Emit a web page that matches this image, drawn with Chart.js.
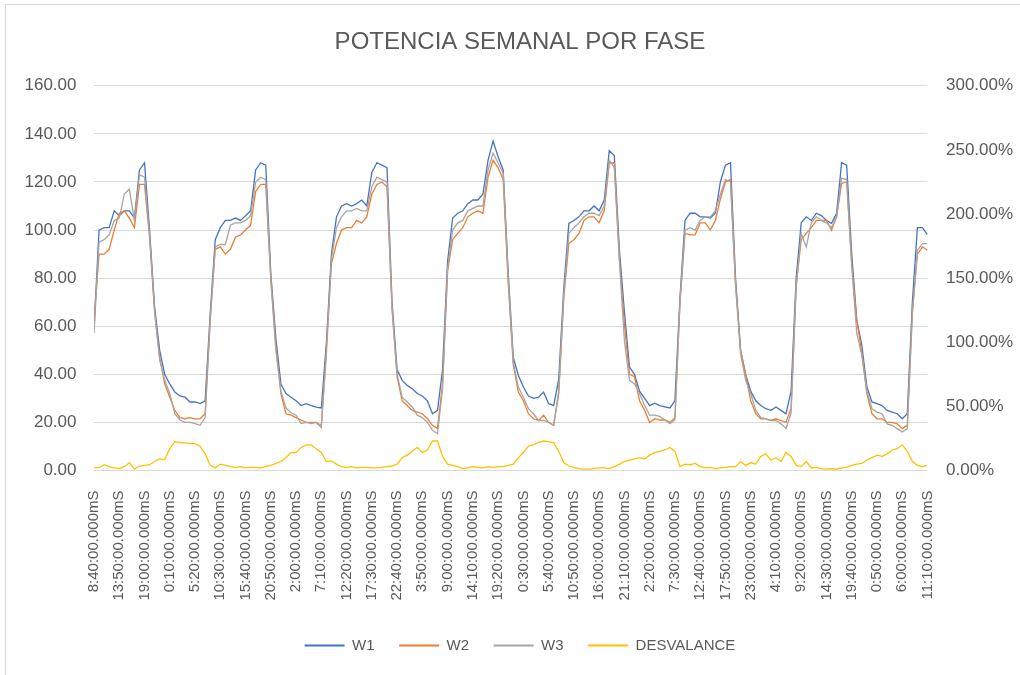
<!DOCTYPE html>
<html>
<head>
<meta charset="utf-8">
<title>Potencia semanal por fase</title>
<script src="https://cdn.jsdelivr.net/npm/chart.js@4.4.1/dist/chart.umd.min.js"></script>
<style>
  html, body { margin: 0; padding: 0; background: #fff; overflow: hidden; }
  #wrap { position: relative; width: 1020px; height: 675px; overflow: hidden; }
  #myChart { position: absolute; left: 0; top: 0; }
  #frame { position: absolute; left: 5px; top: 4px; width: 1100px; height: 700px;
           border: 1px solid #d9d9d9; box-sizing: border-box; pointer-events: none; }
</style>
</head>
<body>
<div id="wrap">
  <canvas id="myChart" width="1040" height="675"></canvas>
  <div id="frame"></div>
</div>
<script>
// one reading every 62 minutes, starting 8:40
var stepMinutes = 62
var tickStep = 310

var tickLabels = [
  '8:40:00.000mS', '13:50:00.000mS', '19:00:00.000mS', '0:10:00.000mS', '5:20:00.000mS',
  '10:30:00.000mS', '15:40:00.000mS', '20:50:00.000mS', '2:00:00.000mS', '7:10:00.000mS',
  '12:20:00.000mS', '17:30:00.000mS', '22:40:00.000mS', '3:50:00.000mS', '9:00:00.000mS',
  '14:10:00.000mS', '19:20:00.000mS', '0:30:00.000mS', '5:40:00.000mS', '10:50:00.000mS',
  '16:00:00.000mS', '21:10:00.000mS', '2:20:00.000mS', '7:30:00.000mS', '12:40:00.000mS',
  '17:50:00.000mS', '23:00:00.000mS', '4:10:00.000mS', '9:20:00.000mS', '14:30:00.000mS',
  '19:40:00.000mS', '0:50:00.000mS', '6:00:00.000mS', '11:10:00.000mS'
]

var w1 = [
  59, 100, 101, 101, 108, 106, 108, 108, 105, 125,
  128, 100, 68, 50, 40, 36, 32.6, 31, 30.5, 28.5,
  28.5, 27.8, 29, 65, 96, 101, 104, 104, 105, 104,
  106, 108, 125, 128, 127, 82, 55, 36, 32, 30.5,
  29, 27, 27.8, 27, 26.4, 26, 53, 90, 105.5, 110,
  111, 110, 111, 112.5, 110, 124, 128, 127, 126, 70,
  42, 37.5, 35.4, 34, 32, 31, 29, 23.6, 25, 42,
  87, 105, 107, 108, 111, 112.5, 112.5, 115, 129, 137,
  130.5, 125, 82, 47, 39.6, 34.7, 31, 30, 30.5, 32.6,
  27.8, 27, 38, 76, 102.8, 104, 105.5, 108, 108, 110,
  108, 112.5, 133, 131, 92, 66, 43, 40, 33, 30,
  27, 28, 27, 26.5, 26, 29, 72, 104, 107, 107,
  105.5, 105.5, 105, 107, 120, 127, 128, 80, 50, 40,
  33, 29, 27, 25.7, 25, 26.4, 25, 23.6, 33, 80,
  103, 105.5, 104, 107, 106, 104, 102.8, 107, 128, 127,
  90, 62.5, 52, 34.7, 28.5, 27.8, 27, 25, 24.3, 23.6,
  21.5, 23.6, 70, 101, 101, 98
]

var w2 = [
  62, 90, 90, 92, 100, 107, 108, 105, 101, 119,
  119, 97, 66, 47, 36, 30.5, 25, 22, 21.5, 22,
  21.5, 21.5, 23.6, 63, 92, 93, 90, 92, 97, 98,
  100, 102, 116, 119, 119, 80, 52, 32, 23.6, 23,
  22, 21, 20, 20, 20, 18, 51, 86, 94.4, 100,
  101, 101, 104, 103, 105.5, 115, 119, 120, 118, 68,
  39, 29, 27, 25, 24.3, 23.6, 21.5, 18.8, 17.4, 36,
  83, 96, 98.6, 101, 105.5, 107, 108, 107, 122, 129,
  126, 121, 78, 44, 32.6, 29, 23.6, 21.5, 20.8, 23,
  20, 18.8, 32, 72, 94.4, 96, 98.6, 104, 105.5, 105.5,
  103, 108, 127.8, 128, 88, 61, 40, 39, 29, 25,
  20, 21.5, 21, 21, 20, 22, 70, 98.6, 98, 98,
  103, 103, 100, 104, 113, 120, 121, 78, 50, 40,
  29, 23.6, 21.5, 21.5, 20.8, 21.5, 20.8, 20, 26, 77,
  96, 98.6, 101, 104, 104, 104, 100, 105.5, 119.4, 120,
  86, 62.5, 49, 32, 23.6, 21.5, 21.5, 20, 20, 19.4,
  17.4, 18.8, 66, 90, 93, 91.6
]

var w3 = [
  57, 95, 96, 98, 104, 105, 115, 117, 104, 123,
  122, 98, 66, 46, 37.5, 32, 23.6, 21, 20, 20,
  19.5, 18.8, 22, 62, 93, 94, 94, 102, 103, 103,
  104, 106, 120, 122, 121, 79, 50, 33, 26, 24,
  23, 19.5, 20, 19.5, 20, 18.8, 48, 88, 101, 105.5,
  108, 108, 109, 108, 108, 118, 122, 121, 120, 67,
  40, 30.5, 28.5, 26.4, 23, 22, 20, 16.7, 15.3, 34,
  84, 100, 103, 104, 108, 109, 110, 110, 125, 132,
  128, 123.6, 80, 45, 34.7, 30.5, 25.7, 23.6, 20.8, 20.8,
  20, 18.8, 33, 73, 98.6, 101, 103, 105.5, 107, 107,
  106, 110, 129, 126, 88, 54, 37.5, 36, 32, 27,
  23, 23, 22.5, 21, 19.5, 21, 70, 100, 101, 100,
  104, 105.5, 105.5, 108, 115, 121, 120, 77, 48.6, 37.5,
  32, 25, 22, 21.5, 20.8, 20.8, 19.4, 17.4, 24, 76,
  98.6, 93, 103, 105.5, 104, 103, 101, 105.5, 121.5, 121,
  85, 57, 48, 33, 25.7, 24.3, 23.6, 19.4, 18.8, 17.4,
  16, 17.4, 65, 91.6, 94.4, 94.4
]

// unbalance between phases, in percent (right axis)
var desvalance = [
  2.5, 2, 4.5, 3, 2, 1.5, 3, 6, 1, 3.5,
  4, 4.5, 7, 9, 8.5, 17, 22.5, 22, 21.5, 21,
  21, 19, 13, 4, 2, 5, 4, 3, 2.5, 3,
  2, 2.5, 2.5, 2, 3, 4, 5.5, 7, 10, 14,
  14, 18, 20, 20, 17, 14, 7, 7.5, 5, 3,
  2.5, 3, 2, 2.5, 2.5, 2, 2, 2.5, 3, 3.5,
  5, 10, 12, 15, 18, 14, 16, 23, 23, 11,
  5, 4, 3, 1.5, 2, 3, 2.5, 2, 3, 2.5,
  3, 3, 4, 5, 10, 14, 19, 20, 22, 23,
  22.5, 21.5, 15, 6, 3.5, 2.5, 1.5, 1, 1, 1.5,
  2, 2, 1.5, 3, 5, 7, 8, 9, 10, 9,
  12, 14, 15, 16, 18, 15, 3, 5, 4.5, 5.5,
  3, 2, 2.5, 1.5, 2, 2.5, 3, 3, 7, 4,
  6, 5, 11, 13, 8, 10, 7, 14, 11, 4,
  3, 7, 2, 2.5, 1.5, 1, 1.5, 1, 2, 2.5,
  4, 5, 5.5, 8, 10, 12, 11, 13, 16, 17,
  20, 15, 7, 4, 3, 4
]

function toPoints(values) {
  return values.map((v, i) => ({ x: i * stepMinutes, y: v }))
}

var textColor = '#595959'
var gridColor = '#d9d9d9'
var baseFont = "'Liberation Sans', Arial, sans-serif"

let ctx = document.getElementById('myChart').getContext('2d')
let myChart = new Chart(ctx, {
  type: 'line',
  data: {
    datasets: [
      {
        label: 'W1',
        data: toPoints(w1),
        borderColor: '#4472c4',
        backgroundColor: '#4472c4',
        borderWidth: 1.3,
        yAxisID: 'y',
        order: 4,
      },
      {
        label: 'W2',
        data: toPoints(w2),
        borderColor: '#ed7d31',
        backgroundColor: '#ed7d31',
        borderWidth: 1.3,
        yAxisID: 'y',
        order: 3,
      },
      {
        label: 'W3',
        data: toPoints(w3),
        borderColor: '#a5a5a5',
        backgroundColor: '#a5a5a5',
        borderWidth: 1.3,
        yAxisID: 'y',
        order: 2,
      },
      {
        label: 'DESVALANCE',
        data: toPoints(desvalance),
        borderColor: '#ffc000',
        backgroundColor: '#ffc000',
        borderWidth: 1.3,
        yAxisID: 'y1',
        order: 1,
      },
    ],
  },
  options: {
    responsive: false,
    animation: false,
    devicePixelRatio: 1,
    elements: {
      point: { radius: 0 },
      line: { tension: 0 },
    },
    layout: {
      padding: { left: 0, right: 0, top: 0, bottom: 12 },
    },
    plugins: {
      title: {
        display: true,
        text: 'POTENCIA SEMANAL POR FASE',
        color: textColor,
        font: { family: baseFont, size: 24, weight: 'normal' },
        padding: { top: 28, bottom: 29 },
      },
      legend: {
        position: 'bottom',
        labels: {
          color: textColor,
          font: { family: baseFont, size: 15 },
          usePointStyle: true,
          pointStyle: 'line',
          pointStyleWidth: 40,
          padding: 24.5,
          // keep W1, W2, W3, DESVALANCE order regardless of draw order
          sort: (a, b) => a.datasetIndex - b.datasetIndex,
          generateLabels: function (chart) {
            let items = Chart.defaults.plugins.legend.labels.generateLabels(chart)
            items.forEach((it) => { it.lineWidth = 2 })
            return items
          },
        },
      },
      tooltip: { enabled: false },
    },
    scales: {
      x: {
        type: 'linear',
        min: 0,
        max: tickStep * (tickLabels.length - 1),
        grid: { display: false },
        border: { display: false },
        afterBuildTicks: function (scale) {
          scale.ticks = tickLabels.map((t, i) => ({ value: i * tickStep }))
        },
        afterFit: function (scale) {
          scale.height = 143
        },
        ticks: {
          autoSkip: false,
          minRotation: 90,
          maxRotation: 90,
          padding: 12,
          color: textColor,
          font: { family: baseFont, size: 15 },
          callback: function (value, index) {
            return tickLabels[index]
          },
        },
      },
      y: {
        position: 'left',
        min: 0,
        max: 160,
        grid: { color: gridColor, lineWidth: 1, drawTicks: false },
        border: { display: false },
        afterFit: function (scale) {
          scale.width = 94
        },
        ticks: {
          stepSize: 20,
          padding: 17.5,
          color: textColor,
          font: { family: baseFont, size: 17 },
          callback: function (value) {
            return value.toFixed(2)
          },
        },
      },
      y1: {
        position: 'right',
        min: 0,
        max: 300,
        grid: { display: false, drawTicks: false },
        border: { display: false },
        afterFit: function (scale) {
          scale.width = 112.5
        },
        ticks: {
          stepSize: 50,
          padding: 18.5,
          color: textColor,
          font: { family: baseFont, size: 17 },
          callback: function (value) {
            return value.toFixed(2) + '%'
          },
        },
      },
    },
  },
})
</script>
</body>
</html>
